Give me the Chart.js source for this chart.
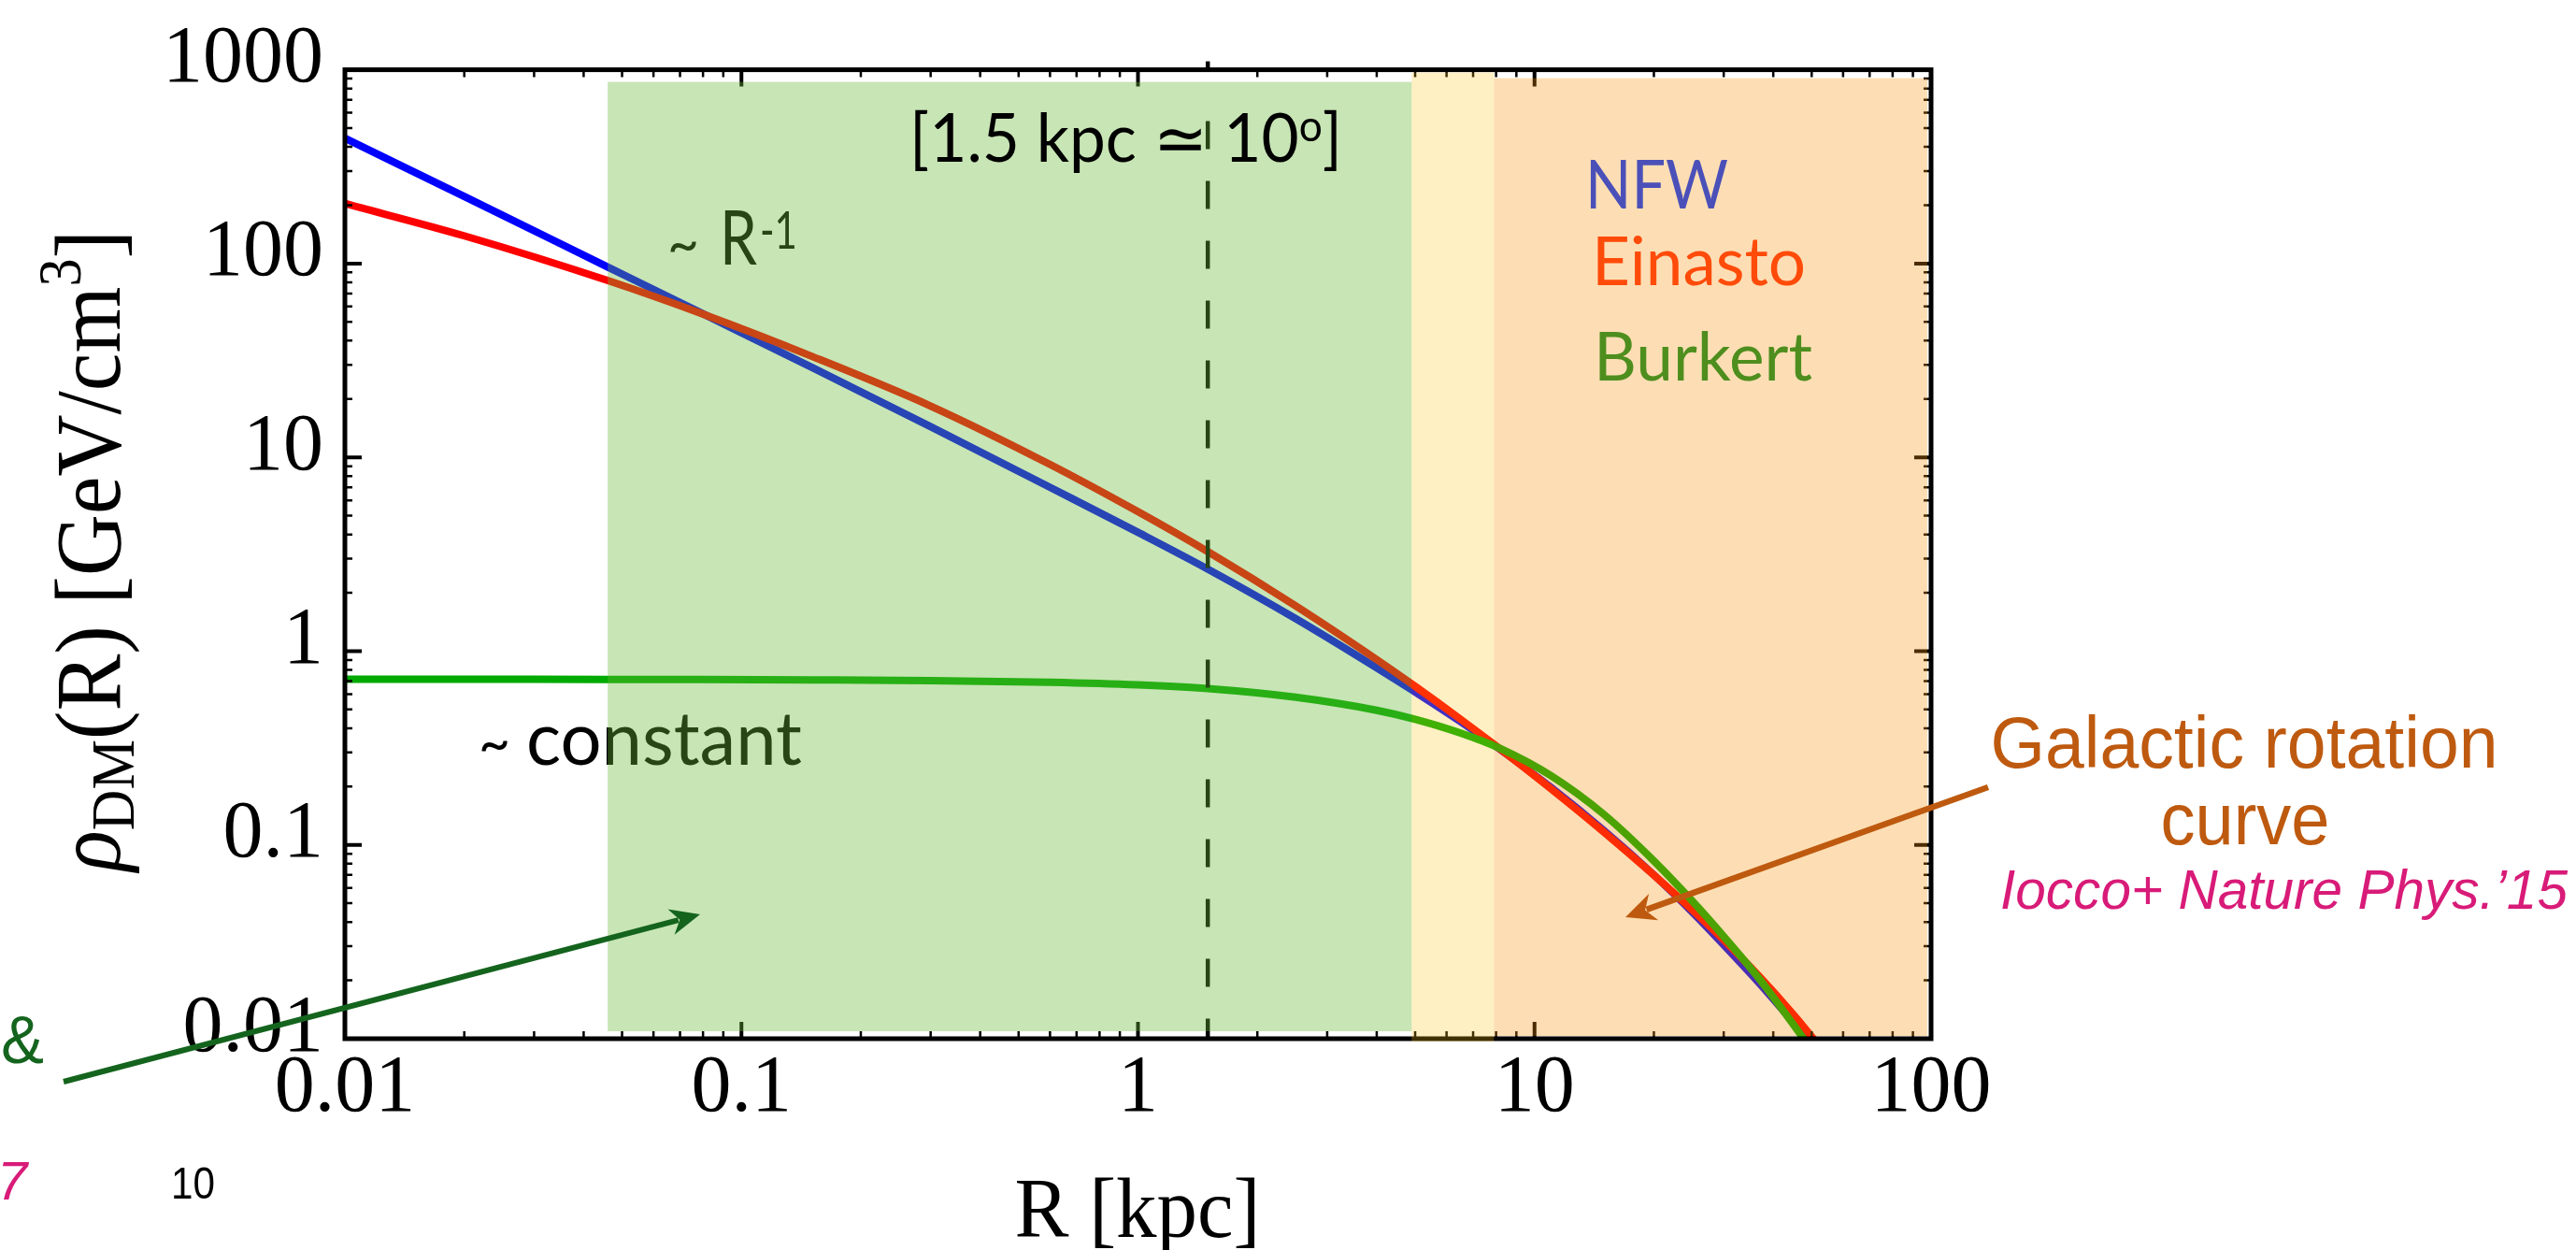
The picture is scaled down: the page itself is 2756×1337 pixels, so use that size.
<!DOCTYPE html>
<html>
<head>
<meta charset="utf-8">
<script src="https://cdn.jsdelivr.net/npm/chart.js@4.4.1/dist/chart.umd.min.js"></script>
<style>
  html, body { margin: 0; padding: 0; background: #fff; }
  canvas { display: block; }
</style>
</head>
<body>
<canvas id="profiles" width="2756" height="1337"></canvas>
<script>
const radius  = [0.01, 0.02, 0.046, 0.08, 0.15, 0.3, 0.6, 1, 1.5, 2.5, 4, 5, 6.5, 8.2, 11, 15, 20, 25, 30, 37, 45, 52];
// density in GeV/cm^3
const nfw     = [443, 222, 96, 55, 29.2, 14.4, 7.0, 4.1, 2.65, 1.47, 0.82, 0.615, 0.433, 0.31, 0.198, 0.118, 0.07, 0.045, 0.0305, 0.0192, 0.0121, 0.0085];
const einasto = [204, 139, 81.7, 54.8, 33.3, 18.4, 9.19, 5.24, 3.26, 1.71, 0.904, 0.658, 0.446, 0.312, 0.195, 0.116, 0.0698, 0.0461, 0.0323, 0.0208, 0.0133, 0.0093];
const burkert = [0.716, 0.716, 0.715, 0.714, 0.711, 0.705, 0.691, 0.670, 0.641, 0.578, 0.495, 0.445, 0.378, 0.314, 0.2275, 0.143, 0.0827, 0.0513, 0.0337, 0.0202, 0.0118, 0.0078];

const xTicks = [0.01, 0.1, 1, 10, 100];
const xTickLabels = ['0.01', '0.1', '1', '10', '100'];
const yTicks = [0.01, 0.1, 1, 10, 100, 1000];
const yTickLabels = ['0.01', '0.1', '1', '10', '100', '1000'];

// shaded R ranges: green | yellow | orange
const bandEdges = [0.046, 4.9, 7.9, 100];
const markerR = 1.5;

function series(values) {
    return radius.map((r, i) => ({ x: r, y: values[i] }));
}

// draws a run of text pieces [text, font, dy], squeezed to width if given
function richText(g, segs, x, y, opt) {
    opt = opt || {};
    g.save();
    let w = 0;
    segs.forEach(s => { g.font = s[1]; w += g.measureText(s[0]).width; });
    const k = opt.width ? opt.width / w : 1;
    g.translate(x, y);
    if (opt.rotate) g.rotate(opt.rotate);
    g.scale(k, 1);
    let cx = opt.align === 'center' ? -w / 2 : 0;
    g.fillStyle = opt.color || '#000';
    g.textAlign = 'left';
    g.textBaseline = 'alphabetic';
    segs.forEach(s => {
        g.font = s[1];
        g.fillText(s[0], cx, s[2] || 0);
        cx += g.measureText(s[0]).width;
    });
    g.restore();
}

function arrow(g, x1, y1, x2, y2, color, width, head, half) {
    const ang = Math.atan2(y2 - y1, x2 - x1);
    const c = Math.cos(ang), s = Math.sin(ang);
    const bx = x2 - head * c, by = y2 - head * s;
    g.save();
    g.strokeStyle = color;
    g.fillStyle = color;
    g.lineWidth = width;
    g.beginPath();
    g.moveTo(x1, y1);
    g.lineTo(bx + 8 * c, by + 8 * s);
    g.stroke();
    g.beginPath();
    g.moveTo(x2, y2);
    g.lineTo(bx - half * s, by + half * c);
    g.lineTo(bx + 0.3 * head * c, by + 0.3 * head * s);
    g.lineTo(bx + half * s, by - half * c);
    g.closePath();
    g.fill();
    g.restore();
}

const decor = {
    id: 'decor',
    afterDatasetsDraw(chart) {
        const g = chart.ctx, a = chart.chartArea;
        const xs = chart.scales.x, ys = chart.scales.y;

        // frame ticks, pointing inwards, on all four sides
        g.save();
        g.strokeStyle = '#000';
        for (let d = 0.01; d < 100; d *= 10) {
            for (let k = 1; k <= 9; k++) {
                const px = xs.getPixelForValue(d * k);
                const len = k === 1 ? 18 : 8;
                g.lineWidth = k === 1 ? 4 : 2.5;
                g.beginPath();
                g.moveTo(px, a.bottom); g.lineTo(px, a.bottom - len);
                g.moveTo(px, a.top); g.lineTo(px, a.top + len);
                g.stroke();
            }
        }
        for (let d = 0.01; d < 1000; d *= 10) {
            for (let k = 1; k <= 9; k++) {
                const py = ys.getPixelForValue(d * k);
                const len = k === 1 ? 18 : 8;
                g.lineWidth = k === 1 ? 4 : 2.5;
                g.beginPath();
                g.moveTo(a.left, py); g.lineTo(a.left + len, py);
                g.moveTo(a.right, py); g.lineTo(a.right - len, py);
                g.stroke();
            }
        }

        // dashed marker at 1.5 kpc
        const mx = xs.getPixelForValue(markerR);
        g.lineWidth = 4.5;
        g.beginPath();
        g.moveTo(mx, a.top - 9); g.lineTo(mx, a.top);
        g.stroke();
        g.setLineDash([30, 34]);
        g.beginPath();
        g.moveTo(mx, a.top + 55); g.lineTo(mx, a.bottom);
        g.stroke();
        g.setLineDash([]);
        g.restore();

        // labels that sit under the shading
        richText(g, [['~', '62px Lato']], 714, 282, { width: 34 });
        richText(g, [['R', '82px Lato']], 770, 283, { width: 40 });
        richText(g, [['-1', '56px Lato']], 813, 266, { width: 40 });
        richText(g, [['~', '62px Lato']], 512, 816, { width: 34 });
        richText(g, [['constant', '80px Lato']], 563, 818, { width: 295 });

        // frame
        g.save();
        g.strokeStyle = '#000';
        g.lineWidth = 5;
        g.strokeRect(a.left, a.top, a.right - a.left, a.bottom - a.top);
        g.restore();

        // shaded ranges laid over the curves
        const e = bandEdges.map(v => xs.getPixelForValue(v));
        g.save();
        g.fillStyle = 'rgba(107,185,56,0.373)';
        g.fillRect(e[0], a.top + 13, e[1] - e[0], a.bottom - a.top - 21);
        g.fillStyle = 'rgba(255,196,20,0.25)';
        g.fillRect(e[1], a.top + 3, e[2] - e[1], a.bottom - a.top);
        g.fillStyle = 'rgba(248,145,5,0.30)';
        g.fillRect(e[2], a.top + 9, Math.min(e[3], a.right - 4) - e[2], a.bottom - a.top - 12);
        g.restore();

        // labels on top
        richText(g, [['[1.5 kpc \u2243 10', '72px Lato'], ['o', '46px Lato', -22], [']', '72px Lato']], 973, 173, { width: 463 });
        richText(g, [['NFW', '72px Lato']], 1696, 223, { width: 153, color: '#4B50B9' });
        richText(g, [['Einasto', '72px Lato']], 1703, 305, { width: 229, color: '#FF4B0A' });
        richText(g, [['Burkert', '72px Lato']], 1705, 407, { width: 234, color: '#4E8E1E' });

        richText(g, [['Galactic rotation', '78px "Liberation Sans"']], 2401, 821, { width: 543, align: 'center', color: '#BE5A0F' });
        richText(g, [['curve', '78px "Liberation Sans"']], 2402, 903, { width: 181, align: 'center', color: '#BE5A0F' });
        richText(g, [['Iocco+ Nature Phys.\u201915', 'italic 60px "Liberation Sans"']], 2140, 972, { width: 607, color: '#D81B78' });

        richText(g, [['&', '72px "Liberation Sans"']], 1, 1137, { width: 46, color: '#14641E' });
        richText(g, [['7', 'italic 58px "Liberation Sans"']], -3, 1283, { color: '#D81B78' });
        richText(g, [['10', '48px "Liberation Sans"']], 183, 1282, { width: 47 });

        arrow(g, 68, 1157, 749, 978, '#14641E', 6, 32, 14);
        arrow(g, 2127, 842, 1739, 981, '#BE5A0F', 6.5, 32, 15);

        // axis titles
        richText(g, [['R [kpc]', '92px "Liberation Serif"']], 1217, 1323, { width: 263, align: 'center' });
        richText(g, [
            ['\u03C1', 'italic 100px "Liberation Serif"'],
            ['DM', '66px "Liberation Serif"', 15],
            ['(R) [GeV/cm', '100px "Liberation Serif"'],
            ['3', '66px "Liberation Serif"', -42],
            [']', '100px "Liberation Serif"']
        ], 128, 589, { width: 686, align: 'center', rotate: -Math.PI / 2 });
    }
};

const ctx = document.getElementById('profiles').getContext('2d');
const chart = new Chart(ctx, {
    type: 'line',
    data: {
        datasets: [
            { label: 'NFW', data: series(nfw), borderColor: '#0000FF', order: 3 },
            { label: 'Einasto', data: series(einasto), borderColor: '#FF0000', order: 2 },
            { label: 'Burkert', data: series(burkert), borderColor: '#00AA00', order: 1 }
        ]
    },
    options: {
        responsive: false,
        animation: false,
        layout: { padding: { left: 0, top: 62, right: 690, bottom: 0 } },
        elements: {
            line: { borderWidth: 8, cubicInterpolationMode: 'monotone', fill: false },
            point: { radius: 0 }
        },
        plugins: { legend: { display: false }, tooltip: { enabled: false } },
        scales: {
            x: {
                type: 'logarithmic',
                min: 0.01,
                max: 100,
                grid: { display: false, drawTicks: false },
                border: { display: false },
                afterBuildTicks: s => { s.ticks = xTicks.map(v => ({ value: v })); },
                afterFit: s => { s.height = 226; },
                ticks: {
                    autoSkip: false,
                    maxRotation: 0,
                    padding: 3,
                    color: '#000',
                    font: { family: 'Liberation Serif', size: 86 },
                    callback: (v, i) => xTickLabels[i]
                }
            },
            y: {
                type: 'logarithmic',
                min: 0.01,
                max: 1000,
                grid: { display: false, drawTicks: false },
                border: { display: false },
                afterBuildTicks: s => { s.ticks = yTicks.map(v => ({ value: v })); },
                afterFit: s => { s.width = 369; },
                ticks: {
                    autoSkip: false,
                    padding: 23,
                    labelOffset: -10,
                    color: '#000',
                    font: { family: 'Liberation Serif', size: 86 },
                    callback: (v, i) => yTickLabels[i]
                }
            }
        }
    },
    plugins: [decor]
});
</script>
</body>
</html>
